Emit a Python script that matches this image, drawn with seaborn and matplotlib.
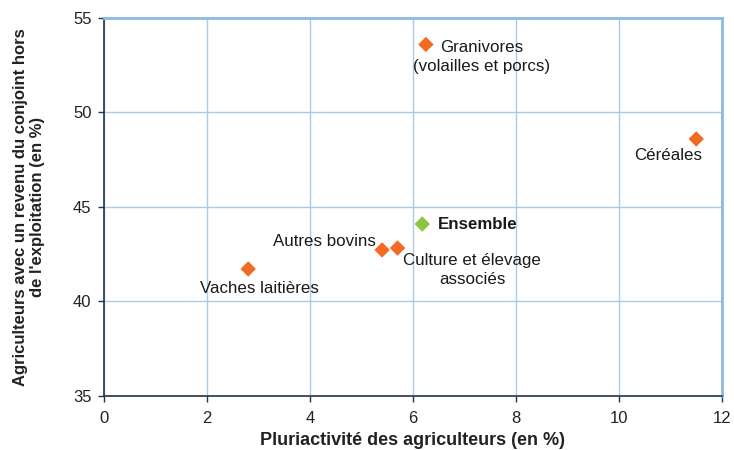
import matplotlib
matplotlib.use("Agg")
import matplotlib.pyplot as plt
import seaborn as sns
import pandas as pd

categories = ["Granivores", "Céréales", "Ensemble", "Autres bovins",
              "Culture et élevage associés", "Vaches laitières"]
pluriactivite = [6.25, 11.5, 6.18, 5.4, 5.7, 2.8]
revenu_conjoint = [53.6, 48.6, 44.1, 42.73, 42.83, 41.72]
groupe = ["otx", "otx", "ens", "otx", "otx", "otx"]

df = pd.DataFrame({"cat": categories, "x": pluriactivite,
                   "y": revenu_conjoint, "g": groupe})

sns.set_theme(style="white")
plt.rcParams["font.family"] = ["Liberation Sans", "DejaVu Sans"]

fig = plt.figure(figsize=(7.34, 4.5), dpi=100)
ax = fig.add_axes([104/734, 1-396/450, (722-104)/734, (396-18)/450])

sns.scatterplot(data=df, x="x", y="y", hue="g",
                palette={"otx": "#F26B24", "ens": "#8CC63E"},
                marker="D", s=62, linewidth=0, legend=False, ax=ax, zorder=3)

ax.set_xlim(0, 12)
ax.set_ylim(35, 55)
ax.set_xticks(range(0, 13, 2))
ax.set_yticks(range(35, 56, 5))
ax.grid(True, color="#A9CBEA", linewidth=1.0)
ax.set_axisbelow(True)

for side in ["top", "right"]:
    ax.spines[side].set_color("#8DB9E2")
    ax.spines[side].set_linewidth(2)
for side in ["left", "bottom"]:
    ax.spines[side].set_color("#243447")
    ax.spines[side].set_linewidth(1.2)

ax.tick_params(axis="both", which="both", length=4, width=1, color="#243447",
               direction="out", labelsize=12, labelcolor="#222222",
               left=True, bottom=True)
ax.tick_params(axis="x", pad=7)
ax.tick_params(axis="y", pad=5)

ax.set_xlabel("Pluriactivité des agriculteurs (en %)", fontsize=13,
              fontweight="bold", color="#222222", labelpad=4)
ax.set_ylabel("Agriculteurs avec un revenu du conjoint hors\nde l'exploitation (en %)",
              fontsize=12, fontweight="bold", color="#222222", labelpad=20,
              linespacing=1.15)

fs = 12.2
ax.text(7.34, 52.94, "Granivores\n(volailles et porcs)", ha="center", va="center",
        fontsize=fs, color="#1a1a1a", linespacing=1.3)
ax.text(10.95, 47.75, "Céréales", ha="center", va="center", fontsize=fs, color="#1a1a1a")
ax.text(6.49, 44.1, "Ensemble", ha="left", va="center", fontsize=fs,
        fontweight="bold", color="#1a1a1a")
ax.text(5.28, 43.15, "Autres bovins", ha="right", va="center", fontsize=fs, color="#1a1a1a")
ax.text(7.15, 41.67, "Culture et élevage\nassociés", ha="center", va="center",
        fontsize=fs, color="#1a1a1a", linespacing=1.3)
ax.text(3.01, 40.71, "Vaches laitières", ha="center", va="center", fontsize=fs, color="#1a1a1a")

fig.savefig("out.png", dpi=100)
